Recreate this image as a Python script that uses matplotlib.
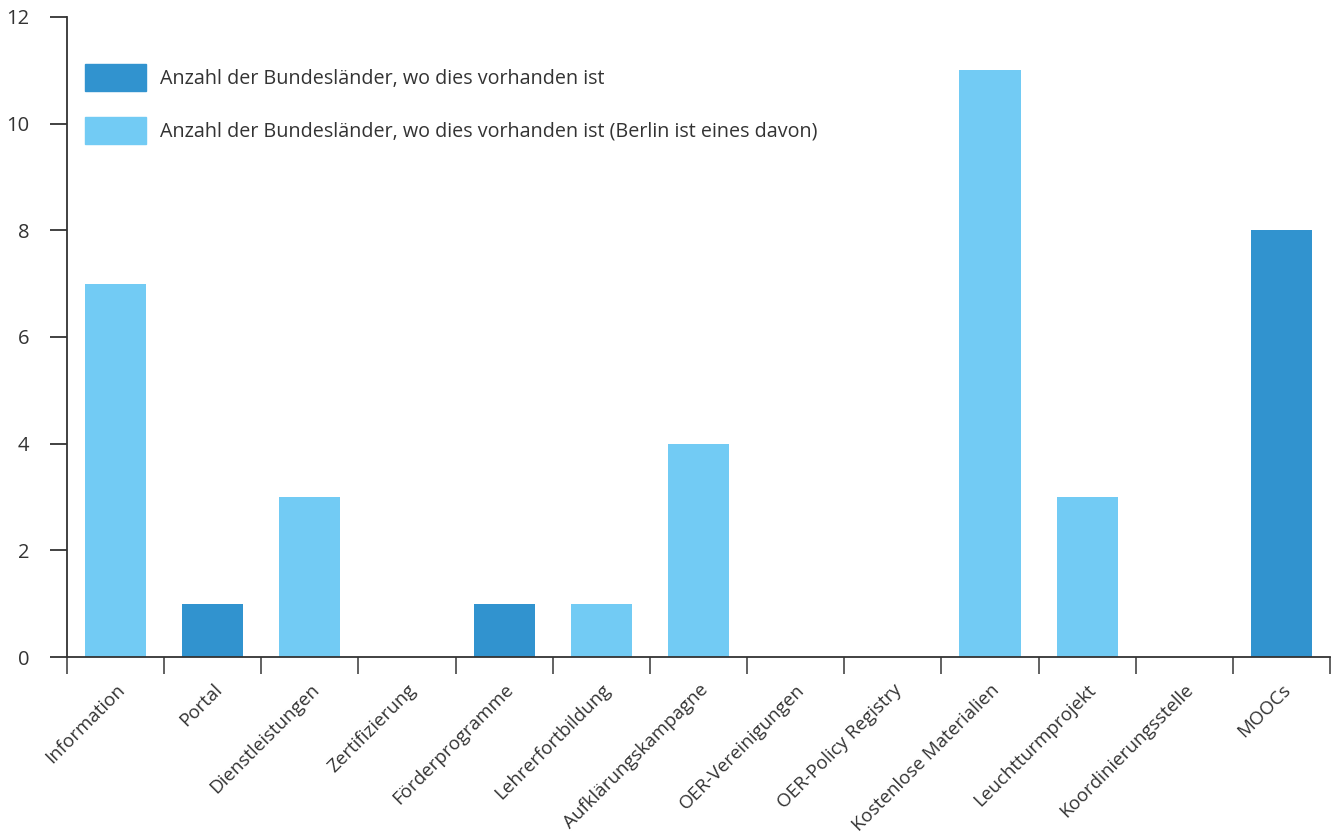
import matplotlib
matplotlib.use("Agg")
import matplotlib.pyplot as plt
import numpy as np
from matplotlib.patches import Patch

categories = ["Information", "Portal", "Dienstleistungen", "Zertifizierung",
              "Förderprogramme", "Lehrerfortbildung", "Aufklärungskampagne",
              "OER-Vereinigungen", "OER-Policy Registry", "Kostenlose Materialien",
              "Leuchtturmprojekt", "Koordinierungsstelle", "MOOCs"]
vorhanden = [0, 1, 0, 0, 1, 0, 0, 0, 0, 0, 0, 0, 8]
vorhanden_berlin = [7, 0, 3, 0, 0, 1, 4, 0, 0, 11, 3, 0, 0]
labels = ["Anzahl der Bundesländer, wo dies vorhanden ist",
          "Anzahl der Bundesländer, wo dies vorhanden ist (Berlin ist eines davon)"]
yticks = [0, 2, 4, 6, 8, 10, 12]

dark = "#3193CF"
light = "#72CBF4"
txt = "#333333"

plt.rcParams['font.family'] = ['Open Sans', 'DejaVu Sans']

fig = plt.figure(figsize=(13.37, 8.38), dpi=100)
ax = fig.add_axes([67/1337, 1-657/838, 1263/1337, 640/838])

x = np.arange(len(categories))
w = 0.63
ax.bar(x, vorhanden_berlin, width=w, color=light, label=labels[1], zorder=2)
ax.bar(x, vorhanden, width=w, color=dark, label=labels[0], zorder=2)

ax.set_xlim(-0.5, len(categories) - 0.5)
ax.set_ylim(0, 12)
ax.set_yticks(yticks)
ax.set_yticklabels([str(v) for v in yticks])

# boundary ticks (major) and labels at centres (minor)
ax.set_xticks(np.arange(-0.5, len(categories), 1.0))
ax.set_xticklabels([])
ax.set_xticks(x, minor=True)
ax.set_xticklabels(categories, minor=True, rotation=45, ha='right',
                   rotation_mode='anchor', fontsize=13.5, color=txt)
ax.tick_params(axis='x', which='minor', length=0, pad=17)
ax.tick_params(axis='x', which='major', length=12, width=1.3, color="#555555")
ax.tick_params(axis='y', length=12, width=1.3, color=txt, pad=15,
               labelsize=14.5, labelcolor=txt)

for s in ['top', 'right']:
    ax.spines[s].set_visible(False)
for s in ['left', 'bottom']:
    ax.spines[s].set_color(txt)
    ax.spines[s].set_linewidth(1.3)

handles = [Patch(color=dark), Patch(color=light)]
ax.legend(handles, labels, loc='upper left',
          bbox_to_anchor=((85-67)/1263, (657-64)/640),
          frameon=False, fontsize=14.2, handlelength=3.1, handleheight=1.75,
          handletextpad=0.7, labelspacing=1.3, borderpad=0, borderaxespad=0,
          labelcolor=txt)

fig.savefig("out.png", dpi=100)
